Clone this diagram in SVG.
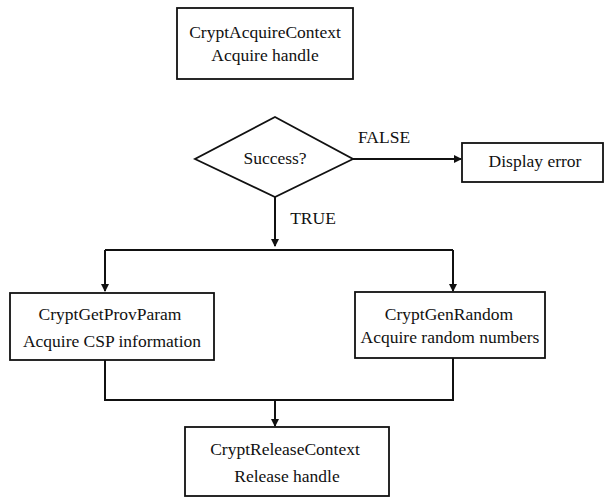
<svg xmlns="http://www.w3.org/2000/svg" width="605" height="499" viewBox="0 0 605 499">
<style>
.box{fill:#fff;stroke:#111;stroke-width:1.8}
.t{font-family:"Liberation Serif","Times New Roman",serif;font-size:17.5px;fill:#111;text-anchor:middle}
.c{fill:none;stroke:#111;stroke-width:2}
</style>
<defs>
<marker id="ah" markerWidth="8" markerHeight="8" refX="7" refY="4" orient="auto" markerUnits="userSpaceOnUse">
<path d="M0,0 L8,4 L0,8 z" fill="#111"/>
</marker>
</defs>
<rect width="605" height="499" fill="#fff"/>
<g id="connectors">
<path class="c" d="M275,197 V246" marker-end="url(#ah)"/>
<path class="c" d="M105,250 H453"/>
<path class="c" d="M105,250 V291" marker-end="url(#ah)"/>
<path class="c" d="M453,250 V291" marker-end="url(#ah)"/>
<path class="c" d="M353,159 H461" marker-end="url(#ah)"/>
<path class="c" d="M105,360 V400 H453 V358"/>
<path class="c" d="M275,400 V426" marker-end="url(#ah)"/>
<text class="t" x="384" y="143">FALSE</text>
<text class="t" x="313" y="224">TRUE</text>
</g>
<g id="acquire">
<rect class="box" x="177" y="8" width="176" height="71"/>
<text class="t" x="265" y="38">CryptAcquireContext</text>
<text class="t" x="265" y="61">Acquire handle</text>
</g>
<g id="success">
<polygon class="box" points="275,117 353,159 275,197 195,159"/>
<text class="t" x="275" y="164">Success?</text>
</g>
<g id="display">
<rect class="box" x="462" y="143" width="141" height="39"/>
<text class="t" x="535" y="167">Display error</text>
</g>
<g id="getprov">
<rect class="box" x="10" y="293" width="204" height="67"/>
<text class="t" x="110" y="320">CryptGetProvParam</text>
<text class="t" x="112" y="347">Acquire CSP information</text>
</g>
<g id="genrandom">
<rect class="box" x="355" y="292" width="190" height="66"/>
<text class="t" x="449" y="320">CryptGenRandom</text>
<text class="t" x="450" y="343">Acquire random numbers</text>
</g>
<g id="release">
<rect class="box" x="185" y="427" width="204" height="69"/>
<text class="t" x="285" y="455">CryptReleaseContext</text>
<text class="t" x="287" y="482">Release handle</text>
</g>
</svg>
